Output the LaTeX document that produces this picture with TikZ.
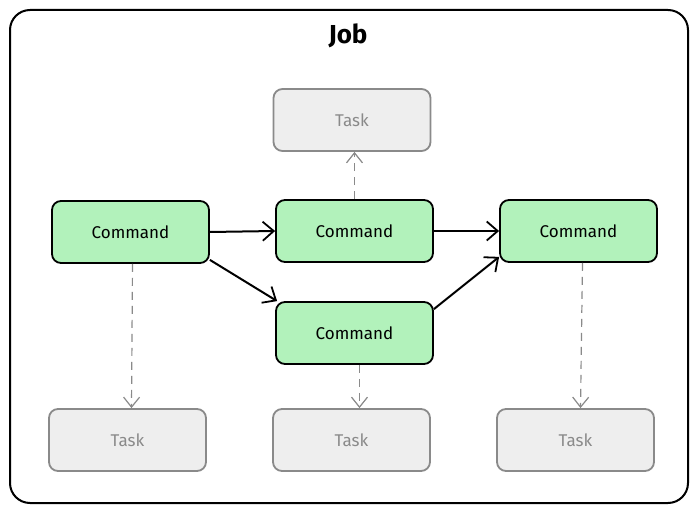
\documentclass[tikz,border=0pt]{standalone}
\usepackage{fontspec}
\setmainfont{Fira Sans}
\usetikzlibrary{arrows.meta}

\definecolor{cmdgreen}{HTML}{B2F2BB}
\definecolor{taskfill}{HTML}{EEEEEE}
\definecolor{taskline}{HTML}{8A8A8A}

\begin{document}
\begin{tikzpicture}[x=1pt,y=-1pt,
    cmdbox/.style={draw=black, fill=cmdgreen, line width=1.8pt, rounded corners=9pt,
      minimum width=157pt, minimum height=62pt, font=\fontsize{17}{20}\selectfont},
    taskbox/.style={draw=taskline, fill=taskfill, line width=1.8pt, rounded corners=9pt,
      minimum width=157pt, minimum height=62pt, text=taskline, font=\fontsize{17}{20}\selectfont},
    flow/.style={draw=black, line width=2pt, -{Straight Barb[length=11pt,width=19pt,line width=1.8pt]}},
    spawn/.style={draw=taskline, line width=1.2pt, dash pattern=on 8pt off 6pt,
      -{Straight Barb[length=10pt,width=16pt,line width=1.2pt]}}]
       \useasboundingbox (0,0) rectangle (697,513);
       \draw[black, line width=2pt, rounded corners=20pt] (10,10) rectangle (688,503);
       \node[font=\fontsize{26}{30}\selectfont\bfseries] (job) at (348,36) {Job};

       % commands
       \node[cmdbox] (cmdA) at (130.5,232) {Command};
       \node[cmdbox] (cmdB) at (354.5,231) {Command};
       \node[cmdbox] (cmdC) at (578.5,231) {Command};
       \node[cmdbox] (cmdD) at (354.5,333) {Command};

       % tasks
       \node[taskbox] (taskTop) at (352,120) {Task};
       \node[taskbox] (taskA) at (127.5,440) {Task};
       \node[taskbox] (taskD) at (351.5,440) {Task};
       \node[taskbox] (taskC) at (575.5,440) {Task};

       \draw[flow] (cmdA.east) -- (cmdB.west);
       \draw[flow] ([yshift=4pt]cmdA.south east) -- ([xshift=2pt]cmdD.north west);
       \draw[flow] (cmdB.east) -- (cmdC.west);
       \draw[flow] ([yshift=-8pt]cmdD.north east) -- ([yshift=6pt]cmdC.south west);

       \draw[spawn] (cmdB.north) -- (taskTop.south -| cmdB.north);
       \draw[spawn] ([xshift=2pt]cmdA.south) -- ([xshift=4pt]taskA.north);
       \draw[spawn] ([xshift=5pt]cmdD.south) -- ([xshift=8pt]taskD.north);
       \draw[spawn] ([xshift=4pt]cmdC.south) -- ([xshift=5pt]taskC.north);
      \end{tikzpicture}
\end{document}
